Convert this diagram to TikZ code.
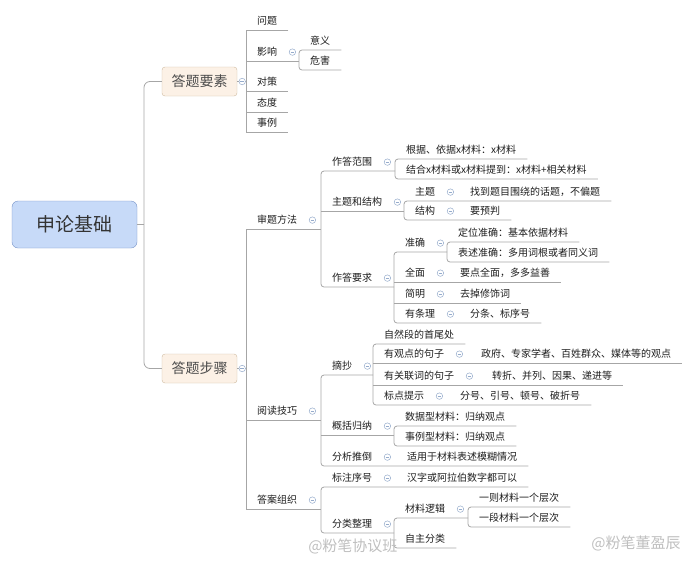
\documentclass[tikz,border=0pt]{standalone}
\usepackage{fontspec}
\setmainfont{Noto Sans CJK SC}
\definecolor{rootfill}{RGB}{199, 218, 248}
\definecolor{rootline}{RGB}{118, 146, 198}
\definecolor{subfill}{RGB}{252, 241, 230}
\definecolor{subline}{RGB}{206, 186, 160}
\definecolor{branch}{RGB}{166, 166, 166}
\definecolor{knobline}{RGB}{150, 172, 204}
\definecolor{ink}{RGB}{30, 30, 30}

\tikzset{
	topic/.style={anchor=south west, inner xsep=11pt, inner ysep=4.2pt, text height=8pt, text depth=1pt, font=\fontsize{10}{12}\selectfont, text=ink},
	subbox/.style={draw=subline, fill=subfill, rounded corners=3pt, minimum width=75pt, minimum height=29pt, font=\fontsize{14}{16}\selectfont, text=black!70},
	knob/.style={circle, draw=knobline, fill=white, inner sep=0pt, minimum size=6.5pt, line width=0.5pt,
		path picture={\draw[knobline, line width=0.5pt] ([xshift=-1.8pt]path picture bounding box.center) -- ([xshift=1.8pt]path picture bounding box.center);}},
	link/.style={draw=branch, line width=0.8pt},
	mark text/.style={text=black!25, font=\fontsize{15}{17}\selectfont},
}

\begin{document}
\begin{tikzpicture}[x=1pt, y=-1pt]
			\useasboundingbox (0, 0) rectangle (700, 560);
			% root and first level
			\node[draw=rootline, fill=rootfill, rounded corners=6pt, minimum width=125pt, minimum height=47pt, font=\fontsize{19}{22}\selectfont, text=black!80] (root) at (74.5, 224.5) {申论基础};
			\node[subbox] (dtys) at (199.5, 81.5) {答题要素};
			\node[subbox] (dtbz) at (199.5, 368.5) {答题步骤};
			\coordinate (rt) at (144, 224.5);
			\draw[link] (root.east) -- (rt);
			\draw[link, rounded corners=6pt] (dtys.west) -| (rt) |- (dtbz.west);

			% 答题要素
			\node[topic] (wt) at (246, 30) {问题};
			\node[topic] (yx) at (246, 61) {影响};
			\node[topic] (dc) at (246, 91) {对策};
			\node[topic] (td) at (246, 112) {态度};
			\node[topic] (sl) at (246, 132) {事例};
			\node[topic] (yy) at (299, 50) {意义};
			\node[topic] (wh) at (299, 70) {危害};
			\draw[link] (dtys.east) -- (dtys.east -| wt.west);
			\draw[link] (wt.south east) -- (wt.south west) -- (sl.south west) -- (sl.south east);
			\draw[link] (dc.south west) -- (dc.south east);
			\draw[link] (td.south west) -- (td.south east);
			\draw[link] (yx.south west) -- (yx.south west -| yy.west);
			\draw[link, rounded corners=3pt] (yy.south east) -- (yy.south west) -- (wh.south west) -- (wh.south east);

			% 答题步骤
			\node[topic] (stff) at (246, 229) {审题方法};
			\node[topic] (ydjq) at (246, 420) {阅读技巧};
			\node[topic] (dazz) at (246, 509) {答案组织};

			% 审题方法
			\node[topic] (zdfw) at (321, 171) {作答范围};
			\node[topic] (ztjg) at (321, 211) {主题和结构};
			\node[topic] (zdyq) at (321, 287) {作答要求};
			\node[topic] (gj) at (395, 159) {根据、依据x材料：x材料};
			\node[topic] (jh) at (395, 179) {结合x材料或x材料提到：x材料+相关材料};
			\node[topic] (zt) at (404, 201) {主题};
			\node[topic] (jg) at (404, 220) {结构};
			\node[topic] (zt-c) at (459, 201) {找到题目围绕的话题，不偏题};
			\node[topic] (jg-c) at (459, 220) {要预判};
			\node[topic] (zq) at (394, 252) {准确};
			\node[topic] (qm) at (394, 282) {全面};
			\node[topic] (jm) at (394, 303) {简明};
			\node[topic] (ytl) at (394, 323) {有条理};
			\node[topic] (dw) at (447, 242) {定位准确：基本依据材料};
			\node[topic] (bs) at (447, 262) {表述准确：多用词根或者同义词};
			\node[topic] (qm-c) at (449, 282) {要点全面，多多益善};
			\node[topic] (jm-c) at (449, 303) {去掉修饰词};
			\node[topic] (ytl-c) at (459, 323) {分条、标序号};

			% 阅读技巧
			\node[topic] (zc) at (321, 375) {摘抄};
			\node[topic] (gkgn) at (321, 435) {概括归纳};
			\node[topic] (fxtd) at (321, 466) {分析推倒};
			\node[topic] (zrd) at (373, 344) {自然段的首尾处};
			\node[topic] (ygd) at (373, 363) {有观点的句子};
			\node[topic] (ygl) at (373, 385) {有关联词的句子};
			\node[topic] (bdts) at (373, 405) {标点提示};
			\node[topic] (ygd-c) at (470, 363) {政府、专家学者、百姓群众、媒体等的观点};
			\node[topic] (ygl-c) at (481, 385) {转折、并列、因果、递进等};
			\node[topic] (bdts-c) at (449, 405) {分号、引号、顿号、破折号};
			\node[topic] (sjx) at (394, 426) {数据型材料：归纳观点};
			\node[topic] (slx) at (394, 446) {事例型材料：归纳观点};
			\node[topic] (fxtd-c) at (396, 466) {适用于材料表述模糊情况};

			% 答案组织
			\node[topic] (bzxh) at (321, 487) {标注序号};
			\node[topic] (fltz) at (321, 533) {分类整理};
			\node[topic] (bzxh-c) at (396, 487) {汉字或阿拉伯数字都可以};
			\node[topic] (cllj) at (394, 518) {材料逻辑};
			\node[topic] (zzfl) at (394, 548) {自主分类};
			\node[topic] (yz) at (468, 507) {一则材料一个层次};
			\node[topic] (yd) at (468, 527) {一段材料一个层次};

			% branches of 答题步骤
			\draw[link] (dtbz.east) -- (dtbz.east -| stff.west);
			\draw[link] (stff.south west -| zdfw.west) -- (stff.south west) -- (dazz.south west) -- (dazz.south west -| bzxh.west);
			\draw[link] (ydjq.south west) -- (ydjq.south west -| zc.west);
			\draw[link, rounded corners=3pt] (zdfw.south west -| gj.west) -- (zdfw.south west) -- (zdyq.south west) -- (zdyq.south west -| zq.west);
			\draw[link] (ztjg.south west) -- (ztjg.south west -| zt.west);
			\draw[link, rounded corners=3pt] (gj.south east) -- (gj.south west) -- (jh.south west) -- (jh.south east);
			\draw[link, rounded corners=3pt] (zt-c.south east) -- (zt.south west) -- (jg.south west) -- (jg-c.south east);
			\draw[link, rounded corners=3pt] (zq.south west -| dw.west) -- (zq.south west) -- (ytl.south west) -- (ytl-c.south east);
			\draw[link] (qm.south west) -- (qm-c.south east);
			\draw[link] (jm.south west) -- (jm-c.south east);
			\draw[link, rounded corners=3pt] (dw.south east) -- (dw.south west) -- (bs.south west) -- (bs.south east);
			\draw[link, rounded corners=3pt] (zc.south west -| zrd.west) -- (zc.south west) -- (fxtd.south west) -- (fxtd-c.south east);
			\draw[link] (gkgn.south west) -- (gkgn.south west -| sjx.west);
			\draw[link, rounded corners=3pt] (zrd.south east) -- (zrd.south west) -- (bdts.south west) -- (bdts-c.south east);
			\draw[link] (ygd.south west) -- (ygd-c.south east);
			\draw[link] (ygl.south west) -- (ygl-c.south east);
			\draw[link, rounded corners=3pt] (sjx.south east) -- (sjx.south west) -- (slx.south west) -- (slx.south east);
			\draw[link, rounded corners=3pt] (bzxh-c.south east) -- (bzxh.south west) -- (fltz.south west) -- (fltz.south west -| cllj.west);
			\draw[link, rounded corners=3pt] (cllj.south west -| yz.west) -- (cllj.south west) -- (zzfl.south west) -- (zzfl.south east);
			\draw[link, rounded corners=3pt] (yz.south east) -- (yz.south west) -- (yd.south west) -- (yd.south east);

			% collapse knobs
			\node[knob] (dtys-k) at ([xshift=5pt]dtys.east) {};
			\node[knob] (dtbz-k) at ([xshift=5pt]dtbz.east) {};
			\node[knob] (yx-k) at ([xshift=4pt]yx.east) {};
			\node[knob] (stff-k) at ([xshift=4pt]stff.east) {};
			\node[knob] (ydjq-k) at ([xshift=4pt]ydjq.east) {};
			\node[knob] (dazz-k) at ([xshift=4pt]dazz.east) {};
			\node[knob] (zdfw-k) at ([xshift=4pt]zdfw.east) {};
			\node[knob] (ztjg-k) at ([xshift=4pt]ztjg.east) {};
			\node[knob] (zdyq-k) at ([xshift=4pt]zdyq.east) {};
			\node[knob] (zt-k) at ([xshift=4pt]zt.east) {};
			\node[knob] (jg-k) at ([xshift=4pt]jg.east) {};
			\node[knob] (zq-k) at ([xshift=4pt]zq.east) {};
			\node[knob] (qm-k) at ([xshift=4pt]qm.east) {};
			\node[knob] (jm-k) at ([xshift=4pt]jm.east) {};
			\node[knob] (ytl-k) at ([xshift=4pt]ytl.east) {};
			\node[knob] (zc-k) at ([xshift=4pt]zc.east) {};
			\node[knob] (ygd-k) at ([xshift=4pt]ygd.east) {};
			\node[knob] (ygl-k) at ([xshift=4pt]ygl.east) {};
			\node[knob] (bdts-k) at ([xshift=4pt]bdts.east) {};
			\node[knob] (gkgn-k) at ([xshift=4pt]gkgn.east) {};
			\node[knob] (fxtd-k) at ([xshift=4pt]fxtd.east) {};
			\node[knob] (bzxh-k) at ([xshift=4pt]bzxh.east) {};
			\node[knob] (fltz-k) at ([xshift=4pt]fltz.east) {};
			\node[knob] (cllj-k) at ([xshift=4pt]cllj.east) {};

			% watermarks
			\node[mark text, anchor=east] (wm1) at (401, 546) {@粉笔协议班};
			\node[mark text] (wm2) at (636, 543) {@粉笔董盈辰};
		\end{tikzpicture}
\end{document}
